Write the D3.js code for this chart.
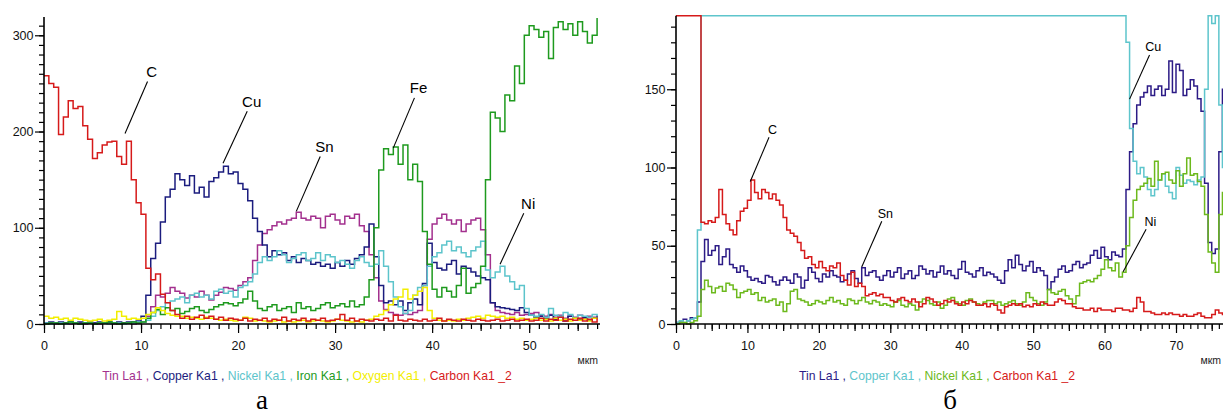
<!DOCTYPE html>
<html>
<head>
<meta charset="utf-8">
<script src="https://cdn.jsdelivr.net/npm/d3@7"></script>
<style>
  body { margin: 0; background: #fff; }
  svg { display: block; font-family: Arial, "Liberation Sans", sans-serif; }
</style>
</head>
<body>
<div id="container"></div>
<script>
// ---- panel "а": counts sampled every 0.5 µm, 0 … 57 µm (one row = 5 µm)
const stepA = 0.5;
const tinA = [
  1,1,0,1,1,0,1,1,0,1,
  1,0,1,1,0,1,1,1,0,1,
  2,8,18,30,28,32,38,34,32,27,
  30,28,34,30,25,30,33,38,37,35,
  40,44,48,66,82,94,98,102,106,104,
  108,110,116,110,108,112,110,100,112,114,
  108,104,112,110,114,102,96,72,48,24,
  15,12,10,9,11,10,12,14,40,88,
  104,110,114,108,104,108,96,104,108,110,
  98,72,22,14,12,11,10,12,9,10,
  11,12,9,8,10,7,9,6,8,7,
  9,6,8,7,9
];
const copperA = [
  1,2,1,2,1,2,1,2,1,2,
  1,2,1,2,1,2,1,2,2,3,
  8,30,68,84,106,132,140,156,150,144,
  154,136,142,132,148,152,158,164,156,158,
  146,140,128,110,96,82,70,76,72,74,
  66,70,64,68,66,62,64,60,62,58,
  64,60,66,62,68,72,80,104,70,40,
  22,24,20,24,14,22,26,20,42,84,
  64,58,56,62,66,52,60,58,54,50,
  48,46,22,18,17,16,15,14,17,12,
  9,7,8,6,9,5,7,3,8,6,
  5,7,4,6,8
];
const nickelA = [
  1,0,1,1,0,1,1,0,1,1,
  0,1,1,0,1,1,0,1,1,2,
  2,4,8,14,18,22,24,26,28,22,
  30,32,28,30,26,34,36,32,34,28,
  38,40,44,52,64,70,66,70,76,72,
  64,68,72,74,66,68,74,66,72,70,
  64,66,62,58,66,70,64,60,62,76,
  60,44,28,18,11,14,30,38,40,60,
  70,74,82,86,76,80,74,70,76,80,
  86,56,48,54,60,50,44,36,40,16,
  9,8,10,7,16,9,8,12,10,6,
  9,8,7,10,8
];
const ironA = [
  0,1,1,0,1,2,1,0,1,1,
  0,1,1,2,1,0,1,1,2,1,
  2,6,12,15,10,17,14,16,11,13,
  16,18,14,12,15,18,20,22,21,19,
  22,26,34,24,16,14,18,20,14,16,
  18,12,22,16,18,14,16,20,22,17,
  19,21,18,24,18,20,28,46,100,160,
  182,176,184,166,186,150,166,148,96,62,
  36,28,38,34,28,40,58,32,38,42,
  60,150,220,214,200,238,232,268,250,300,
  310,306,298,304,276,308,314,306,312,300,
  314,304,292,300,318
];
const oxygenA = [
  8,6,7,5,6,4,6,5,4,3,
  4,5,3,4,5,13,8,5,6,5,
  6,10,12,17,14,11,9,8,8,6,
  7,6,5,7,6,5,4,5,4,3,
  4,7,6,3,4,3,2,3,4,2,
  3,2,3,4,2,3,4,3,2,3,
  5,4,3,2,3,2,4,5,8,10,
  14,20,26,28,36,26,30,34,38,14,
  6,4,3,4,3,5,4,6,7,8,
  6,9,8,7,8,6,7,5,6,4,
  5,6,4,5,3,6,4,5,3,6,
  4,5,3,6,5
];
const carbonA = [
  258,250,246,197,215,232,224,226,206,192,
  172,178,186,189,190,174,166,190,150,126,
  114,58,46,52,31,22,14,10,6,8,
  5,7,9,6,8,5,7,4,6,5,
  4,6,3,5,4,6,3,5,4,7,
  3,5,4,6,3,5,4,6,3,4,
  5,10,4,6,3,5,4,3,5,4,
  6,3,9,4,3,5,4,3,5,3,
  4,6,3,5,4,3,5,4,3,5,
  4,3,4,5,3,4,5,3,4,5,
  3,4,6,3,5,4,7,3,5,4,
  6,3,5,2,6
];

// ---- panel "б": counts sampled every 0.5 µm, 0 … 77.5 µm
const stepB = 0.5;
const tinB = [
  1,2,3,2,4,4,14,40,54,44,
  47,50,38,43,48,38,36,33,37,34,
  30,28,29,27,26,31,30,27,25,28,
  30,28,26,32,30,23,28,36,33,29,
  27,32,30,34,31,30,27,28,32,34,
  29,26,36,31,33,34,30,28,31,34,
  30,33,36,29,32,34,29,31,37,35,
  32,34,30,33,37,32,34,31,29,35,
  40,33,32,30,34,36,31,33,32,30,
  28,26,34,41,36,44,38,34,37,40,
  33,36,34,31,22,27,30,35,37,33,
  34,38,40,36,38,39,44,47,42,49,
  43,41,46,44,43,48,86,110,128,140,
  145,148,152,146,150,152,146,150,168,148,
  166,162,146,150,156,152,144,136,90,52,
  45,48,110,150,152,150
];
const copperB = [
  1,2,1,2,3,4,60,197,197,197,
  197,197,197,197,197,197,197,197,197,197,
  197,197,197,197,197,197,197,197,197,197,
  197,197,197,197,197,197,197,197,197,197,
  197,197,197,197,197,197,197,197,197,197,
  197,197,197,197,197,197,197,197,197,197,
  197,197,197,197,197,197,197,197,197,197,
  197,197,197,197,197,197,197,197,197,197,
  197,197,197,197,197,197,197,197,197,197,
  197,197,197,197,197,197,197,197,197,197,
  197,197,197,197,197,197,197,197,197,197,
  197,197,197,197,197,197,197,197,197,197,
  197,197,197,197,197,197,180,125,104,96,
  100,94,86,82,86,92,96,88,84,80,
  100,95,90,92,91,89,92,94,150,197,
  192,197,140,100,96,95
];
const nickelB = [
  0,1,1,0,1,2,5,22,28,24,
  20,23,24,21,26,25,22,17,20,21,
  22,19,20,15,17,14,15,16,12,14,
  8,13,21,22,16,15,14,12,13,15,
  14,13,15,17,14,15,13,12,16,15,
  13,15,17,14,13,15,14,12,13,12,
  11,14,15,12,11,13,12,9,14,16,
  15,13,12,14,10,12,16,17,14,13,
  12,15,16,14,13,12,14,15,15,13,
  14,12,13,14,15,13,12,14,20,17,
  15,13,12,14,22,20,19,21,22,18,
  16,13,18,26,27,28,27,29,31,35,
  41,36,34,39,30,33,50,68,79,86,
  88,90,93,88,104,92,96,97,92,90,
  98,88,96,106,95,96,91,88,70,46,
  39,33,70,84,88,90
];
const carbonB = [
  197,197,197,197,197,197,197,65,64,66,
  65,68,86,70,64,60,57,66,72,74,
  79,92,84,80,86,84,80,83,79,76,
  68,60,58,56,52,47,42,43,38,36,
  40,36,34,37,36,39,31,28,25,33,
  24,26,24,18,19,20,18,19,17,17,
  15,14,16,17,15,14,16,14,11,13,
  17,16,14,12,13,15,14,15,13,12,
  14,13,15,14,12,12,13,11,13,12,
  9,7,11,12,13,12,13,11,12,11,
  13,12,14,13,12,12,14,16,15,13,
  13,11,10,10,9,9,10,8,10,9,
  9,9,8,10,10,9,9,8,10,17,
  14,8,8,7,6,6,7,6,7,6,
  6,5,6,5,5,6,7,5,4,4,
  6,9,7,6,7,8
];

// peak labels: label point and target point, in data units (µm, counts)
const annotA = [
  { name: "C",  lx: 11.1, ly: 262, tx: 8.35, ty: 198 },
  { name: "Cu", lx: 21.4, ly: 231, tx: 18.45, ty: 167 },
  { name: "Sn", lx: 28.9, ly: 184, tx: 26.0, ty: 117 },
  { name: "Fe", lx: 38.6, ly: 245, tx: 36.0, ty: 183 },
  { name: "Ni", lx: 49.9, ly: 125, tx: 47.0, ty: 62 }
];
const annotB = [
  { name: "C",  lx: 13.5, ly: 124.5, tx: 10.4, ty: 91 },
  { name: "Sn", lx: 29.3, ly: 70.8, tx: 26.0, ty: 36.4 },
  { name: "Cu", lx: 66.8, ly: 177, tx: 63.5, ty: 143.7 },
  { name: "Ni", lx: 66.4, ly: 65.4, tx: 62.6, ty: 33.4 }
];

const width = 1223, height = 414;

const svg = d3.select("#container")
  .append("svg")
  .attr("width", width)
  .attr("height", height);

svg.append("rect").attr("width", width).attr("height", height).attr("fill", "#fff");

function drawPanel(p) {
  const x = d3.scaleLinear().domain(p.xDomain).range(p.xRange);
  const y = d3.scaleLinear().domain(p.yDomain).range(p.yRange).clamp(true);
  const g = svg.append("g");

  // series
  p.series.forEach(s => {
    const line = d3.line()
      .x((d, i) => x(i * p.step))
      .y(d => y(d))
      .curve(d3.curveStepAfter);
    g.append("path")
      .datum(s.values)
      .attr("fill", "none")
      .attr("stroke", s.color)
      .attr("stroke-width", 1.5)
      .attr("d", line);
  });

  // x axis: 1 µm minor, 5 µm mid, 10 µm labelled
  const xMax = p.xDomain[1];
  const xAxisG = (ticks, size, labelled) => {
    const ax = d3.axisBottom(x).tickValues(ticks).tickSize(size).tickSizeOuter(0).tickPadding(8);
    if (!labelled) ax.tickFormat("");
    const a = g.append("g").attr("transform", `translate(0,${y(0)})`).call(ax);
    a.select(".domain").remove();
    a.selectAll("line").attr("stroke", "#000").attr("stroke-width", 1.2);
    a.selectAll("text").attr("fill", "#111").style("font-size", "12.5px").style("font-family", "Arial, 'Liberation Sans', sans-serif");
  };
  xAxisG(d3.range(0, xMax, 1), 5, false);
  xAxisG(d3.range(5, xMax, 10), 7, false);
  xAxisG(d3.range(0, xMax, 10), 9, true);

  // y axis: 10-count minor, labelled majors
  const yAxisG = (ticks, size, labelled) => {
    const ax = d3.axisLeft(y).tickValues(ticks).tickSize(size).tickSizeOuter(0).tickPadding(1.5);
    if (!labelled) ax.tickFormat("");
    const a = g.append("g").attr("transform", `translate(${x(0)},0)`).call(ax);
    a.select(".domain").remove();
    a.selectAll("line").attr("stroke", "#000").attr("stroke-width", 1.2);
    a.selectAll("text").attr("fill", "#111").style("font-size", "12.5px").style("font-family", "Arial, 'Liberation Sans', sans-serif");
  };
  yAxisG(d3.range(0, p.yDomain[1], 10), 5, false);
  yAxisG(d3.range(0, p.yDomain[1], p.yMajor), 9, true);

  // axis lines
  g.append("line")
    .attr("x1", x(0)).attr("x2", x(xMax))
    .attr("y1", y(0)).attr("y2", y(0))
    .attr("stroke", "#000").attr("stroke-width", 1.6);
  g.append("line")
    .attr("x1", x(0)).attr("x2", x(0))
    .attr("y1", y(0)).attr("y2", y(p.yDomain[1]))
    .attr("stroke", "#000").attr("stroke-width", 1.6);

  // unit
  g.append("text")
    .attr("x", Math.min(x(xMax) - 2, width - 2))
    .attr("y", y(0) + 40)
    .attr("text-anchor", "end")
    .style("font-size", "10.5px")
    .attr("fill", "#222")
    .text("мкm");

  // peak labels
  p.annot.forEach(a => {
    const lx = x(a.lx), ly = y(a.ly), tx = x(a.tx), ty = y(a.ty);
    const len = Math.hypot(tx - lx, ty - ly);
    const off = p.labelSize * 0.7;
    g.append("line")
      .attr("x1", lx + (tx - lx) / len * off)
      .attr("y1", ly + (ty - ly) / len * off)
      .attr("x2", tx).attr("y2", ty)
      .attr("stroke", "#000").attr("stroke-width", 1.1);
    g.append("text")
      .attr("x", lx).attr("y", ly)
      .attr("dy", "0.35em")
      .attr("text-anchor", "middle")
      .style("font-size", p.labelSize + "px")
      .attr("fill", "#000")
      .text(a.name);
  });

  // legend
  const legend = g.append("text")
    .attr("x", p.legendX)
    .attr("y", 380)
    .attr("text-anchor", "middle")
    .style("font-size", "12.2px");
  p.series.forEach((s, i) => {
    legend.append("tspan").attr("fill", s.color)
      .text(s.name + (i < p.series.length - 1 ? " , " : ""));
  });

  // panel letter
  svg.append("text")
    .attr("x", p.captionX)
    .attr("y", 409)
    .attr("text-anchor", "middle")
    .style("font-family", "'Liberation Serif', 'DejaVu Serif', serif")
    .style("font-size", "27px")
    .attr("fill", "#000")
    .text(p.caption);
}

drawPanel({
  step: stepA,
  xDomain: [0, 57.3], xRange: [44, 600],
  yDomain: [0, 319], yRange: [324, 17], yMajor: 100,
  labelSize: 15,
  legendX: 307, captionX: 262, caption: "а",
  annot: annotA,
  series: [
    { name: "Tin La1", color: "#a3308e", values: tinA },
    { name: "Copper Ka1", color: "#1b1c7e", values: copperA },
    { name: "Nickel Ka1", color: "#5cc4cb", values: nickelA },
    { name: "Iron Ka1", color: "#1e9a1e", values: ironA },
    { name: "Oxygen Ka1", color: "#f2ee00", values: oxygenA },
    { name: "Carbon Ka1 _2", color: "#d61a1a", values: carbonA }
  ]
});

drawPanel({
  step: stepB,
  xDomain: [0, 77.7], xRange: [676, 1231],
  yDomain: [0, 197], yRange: [324, 15.7], yMajor: 50,
  labelSize: 12.5,
  legendX: 937, captionX: 950, caption: "б",
  annot: annotB,
  series: [
    { name: "Tin La1", color: "#2c1b86", values: tinB },
    { name: "Copper Ka1", color: "#5ec5cc", values: copperB },
    { name: "Nickel Ka1", color: "#6cb91c", values: nickelB },
    { name: "Carbon Ka1 _2", color: "#d61a1a", values: carbonB }
  ]
});
</script>
</body>
</html>
